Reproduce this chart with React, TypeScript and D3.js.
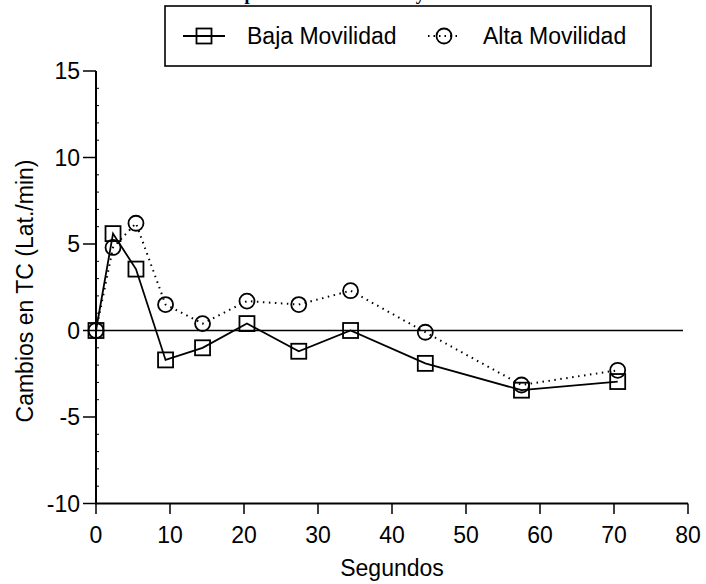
import React from "react";
import * as d3 from "d3";

const seconds = [0, 2.3, 5.4, 9.4, 14.4, 20.4, 27.4, 34.4, 44.5, 57.5, 70.5];
const bajaMovilidad = [0, 5.6, 3.55, -1.7, -1.0, 0.4, -1.2, 0.0, -1.9, -3.45, -2.95];
const altaMovilidad = [0, 4.8, 6.2, 1.5, 0.4, 1.7, 1.5, 2.3, -0.1, -3.15, -2.3];
const xTicks = [0, 10, 20, 30, 40, 50, 60, 70, 80];
const yTicks = [-10, -5, 0, 5, 10, 15];
const seriesNames = ["Baja Movilidad", "Alta Movilidad"];
const titleText = "Comportamiento de la TC y Movilidad";
const xTitle = "Segundos";
const yTitle = "Cambios en TC (Lat./min)";

const W = 706;
const H = 584;
const FONT = "'Liberation Sans', Arial, sans-serif";

export default function App() {
  const x = d3.scaleLinear().domain([0, 80]).range([96, 688]);
  const y = d3.scaleLinear().domain([-10, 15]).range([503.5, 71]);
  const minorY = d3.range(-10, 16, 1).filter((v) => v % 5 !== 0);

  const bajaPts: [number, number][] = seconds.map((s, i) => [s, bajaMovilidad[i]]);
  const altaPts: [number, number][] = seconds.map((s, i) => [s, altaMovilidad[i]]);
  const line = d3
    .line<[number, number]>()
    .x((d) => x(d[0]))
    .y((d) => y(d[1]));

  const sq = 15;
  const r = 7.5;

  return (
    <svg
      width={W}
      height={H}
      style={{ position: "absolute", left: 0, top: 0, background: "#fff" }}
      fontFamily={FONT}
    >
      <rect x={0} y={0} width={W} height={H} fill="#fff" />
      {/* title, mostly outside the picture as in the reference */}
      <text
        x={207}
        y={0}
        fontFamily="'Liberation Serif', 'Times New Roman', serif"
        fontWeight="bold"
        fontSize={18.2}
        fill="#000"
      >
        {titleText}
      </text>

      {/* legend */}
      <rect x={165} y={6} width={486} height={60} fill="#fff" stroke="#000" strokeWidth={1.6} />
      <line x1={183} x2={225} y1={36} y2={36} stroke="#000" strokeWidth={1.8} />
      <rect x={204 - sq / 2} y={36 - sq / 2} width={sq} height={sq} fill="none" stroke="#000" strokeWidth={1.8} />
      <text x={247} y={44} fontSize={23} fill="#000">
        {seriesNames[0]}
      </text>
      <line
        x1={428}
        x2={461}
        y1={36}
        y2={36}
        stroke="#000"
        strokeWidth={2}
        strokeDasharray="1.5 4"
      />
      <circle cx={444} cy={36} r={r} fill="none" stroke="#000" strokeWidth={1.8} />
      <text x={483} y={44} fontSize={23} fill="#000">
        {seriesNames[1]}
      </text>

      {/* axes */}
      <line x1={96} x2={96} y1={71} y2={504} stroke="#000" strokeWidth={2} />
      <line x1={95} x2={688} y1={503.5} y2={503.5} stroke="#000" strokeWidth={2} />
      {yTicks.map((t) => (
        <g key={"yt" + t}>
          <line x1={83} x2={96} y1={y(t)} y2={y(t)} stroke="#000" strokeWidth={1.5} />
          <text x={80} y={y(t)} dy="0.36em" textAnchor="end" fontSize={23} fill="#000">
            {t}
          </text>
        </g>
      ))}
      {minorY.map((t) => (
        <line key={"ym" + t} x1={96} x2={99} y1={y(t)} y2={y(t)} stroke="#000" strokeWidth={1} />
      ))}
      {xTicks.map((t) => (
        <g key={"xt" + t}>
          <line x1={x(t)} x2={x(t)} y1={503.5} y2={514} stroke="#000" strokeWidth={1.5} />
          <text x={x(t)} y={543} textAnchor="middle" fontSize={23} fill="#000">
            {t}
          </text>
        </g>
      ))}
      <text x={392} y={576} textAnchor="middle" fontSize={23} fill="#000">
        {xTitle}
      </text>
      <text
        transform={`translate(25,${291}) rotate(-90)`}
        textAnchor="middle"
        dy="0.36em"
        fontSize={23}
        fill="#000"
      >
        {yTitle}
      </text>

      {/* zero reference line */}
      <line x1={96} x2={683} y1={y(0)} y2={y(0)} stroke="#000" strokeWidth={1.6} />

      {/* series */}
      <path d={line(altaPts) || ""} fill="none" stroke="#000" strokeWidth={2} strokeDasharray="1.5 4.5" />
      <path d={line(bajaPts) || ""} fill="none" stroke="#000" strokeWidth={1.8} />
      {bajaPts.map((d, i) => (
        <rect
          key={"b" + i}
          x={x(d[0]) - sq / 2}
          y={y(d[1]) - sq / 2}
          width={sq}
          height={sq}
          fill="none"
          stroke="#000"
          strokeWidth={1.8}
        />
      ))}
      {altaPts.map((d, i) => (
        <circle key={"a" + i} cx={x(d[0])} cy={y(d[1])} r={r} fill="none" stroke="#000" strokeWidth={1.8} />
      ))}
    </svg>
  );
}
